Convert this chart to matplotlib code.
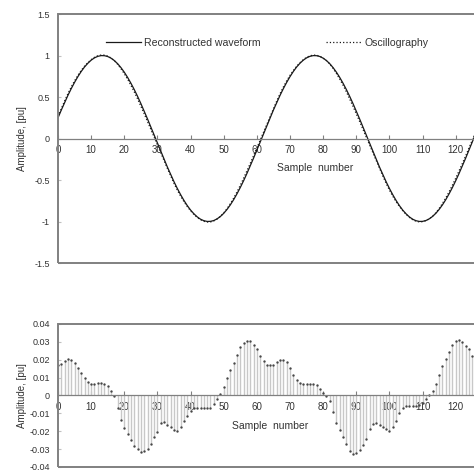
import matplotlib
matplotlib.use("Agg")
import matplotlib.pyplot as plt
from matplotlib.patches import Rectangle
from matplotlib.ticker import FuncFormatter

plt.rcParams['font.family'] = ['Liberation Sans', 'DejaVu Sans']

# reconstructed waveform, one value per sample (0..127)
recon_cycle_a = [
    0.250, 0.344, 0.434, 0.521, 0.602, 0.677, 0.746, 0.808,
    0.862, 0.907, 0.944, 0.972, 0.990, 0.999, 0.998, 0.988,
    0.968, 0.939, 0.901, 0.854, 0.799, 0.736, 0.666, 0.590,
    0.508, 0.421, 0.330, 0.236, 0.139, 0.041, -0.057, -0.154,
    -0.250, -0.344, -0.434, -0.521, -0.602, -0.677, -0.746, -0.808,
    -0.862, -0.907, -0.944, -0.972, -0.990, -0.999, -0.998, -0.988,
    -0.968, -0.939, -0.901, -0.854, -0.799, -0.736, -0.666, -0.590,
    -0.508, -0.421, -0.330, -0.236, -0.139, -0.041, 0.057, 0.154,
]
recon_cycle_b = [
    0.250, 0.344, 0.434, 0.521, 0.602, 0.677, 0.746, 0.808,
    0.862, 0.907, 0.944, 0.972, 0.990, 0.999, 0.998, 0.988,
    0.968, 0.939, 0.901, 0.854, 0.799, 0.736, 0.666, 0.590,
    0.508, 0.421, 0.330, 0.236, 0.139, 0.041, -0.057, -0.154,
    -0.250, -0.344, -0.434, -0.521, -0.602, -0.677, -0.746, -0.808,
    -0.862, -0.907, -0.944, -0.972, -0.990, -0.999, -0.998, -0.988,
    -0.968, -0.939, -0.901, -0.854, -0.799, -0.736, -0.666, -0.590,
    -0.508, -0.421, -0.330, -0.236, -0.139, -0.041, 0.057, 0.154,
]
reconstructed = recon_cycle_a + recon_cycle_b

# difference between oscillography and reconstruction (lower plot)
error = [
    0.0170, 0.0175, 0.0195, 0.0202, 0.0200, 0.0180, 0.0155, 0.0125,
    0.0098, 0.0075, 0.0064, 0.0067, 0.0069, 0.0069, 0.0065, 0.0052,
    0.0025, -0.0005, -0.0070, -0.0135, -0.0180, -0.0215, -0.0250, -0.0280,
    -0.0300, -0.0315, -0.0310, -0.0300, -0.0270, -0.0235, -0.0205, -0.0155,
    -0.0150, -0.0165, -0.0178, -0.0192, -0.0197, -0.0175, -0.0145, -0.0117,
    -0.0085, -0.0070, -0.0070, -0.0072, -0.0072, -0.0072, -0.0070, -0.0045,
    -0.0018, 0.0010, 0.0045, 0.0095, 0.0140, 0.0180, 0.0225, 0.0270,
    0.0295, 0.0307, 0.0303, 0.0285, 0.0258, 0.0222, 0.0195, 0.0172,
    0.0168, 0.0172, 0.0188, 0.0198, 0.0200, 0.0185, 0.0155, 0.0115,
    0.0085, 0.0068, 0.0065, 0.0066, 0.0066, 0.0064, 0.0058, 0.0038,
    0.0015, -0.0005, -0.0030, -0.0090, -0.0155, -0.0195, -0.0230, -0.0270,
    -0.0310, -0.0326, -0.0323, -0.0305, -0.0278, -0.0242, -0.0188, -0.0158,
    -0.0155, -0.0165, -0.0175, -0.0190, -0.0197, -0.0175, -0.0145, -0.0100,
    -0.0070, -0.0060, -0.0058, -0.0058, -0.0058, -0.0055, -0.0040, -0.0022,
    0.0000, 0.0025, 0.0065, 0.0115, 0.0165, 0.0205, 0.0242, 0.0285,
    0.0305, 0.0310, 0.0300, 0.0276, 0.0258, 0.0222, 0.0190, 0.0170,
]

samples = list(range(len(reconstructed)))
oscillography = [r + e for r, e in zip(reconstructed, error)]

top_yticks = [1.5, 1, 0.5, 0, -0.5, -1, -1.5]
bottom_yticks = [0.04, 0.03, 0.02, 0.01, 0, -0.01, -0.02, -0.03, -0.04]
xticks = list(range(0, 130, 10))

frame_col = '#808080'
text_col = '#333333'


def style_axes(ax, ylim, yticks, fmt):
    ax.set_xlim(0, 130)
    ax.set_ylim(*ylim)
    for s in ['top', 'right', 'left']:
        ax.spines[s].set_visible(False)
    ax.spines['bottom'].set_position(('data', 0))
    ax.spines['bottom'].set_color(frame_col)
    ax.spines['bottom'].set_linewidth(0.9)
    ax.add_patch(Rectangle((0, 0), 1, 1, transform=ax.transAxes, fill=False,
                           edgecolor=frame_col, lw=1.4, clip_on=False, zorder=5))
    ax.set_xticks(xticks)
    ax.set_yticks(yticks)
    ax.yaxis.set_major_formatter(FuncFormatter(fmt))
    ax.tick_params(axis='x', direction='in', length=3, pad=5, color=frame_col,
                   labelsize=7, labelcolor=text_col)
    ax.tick_params(axis='y', direction='in', length=2, pad=6, color='#c0c0c0',
                   labelsize=6.5, labelcolor=text_col)


fig = plt.figure(figsize=(4.74, 4.74), dpi=100)

# upper plot
ax1 = fig.add_axes([0.1224, 0.4451, 0.909, 0.5253])
ax1.plot(samples, reconstructed, color='#1a1a1a', lw=0.9, label='Reconstructed waveform')
ax1.plot(samples, oscillography, color='#1a1a1a', lw=0.9, ls=':', label='Oscillography')
style_axes(ax1, (-1.5, 1.5), top_yticks, lambda v, p: ('%g' % v))
ax1.set_xlabel('Sample  number', fontsize=7.5, color=text_col)
ax1.xaxis.set_label_coords(0.596, 0.40)
ax1.set_ylabel('Amplitude, [pu]', fontsize=7, color=text_col)
ax1.yaxis.set_label_coords(-0.072, 0.5)
ax1.legend(loc='center', bbox_to_anchor=(0.486, 0.884), ncol=2, frameon=False,
           fontsize=7.6, handlelength=3.3, handletextpad=0.3, columnspacing=6.2,
           labelcolor=text_col)

# lower plot
ax2 = fig.add_axes([0.1224, 0.0148, 0.909, 0.3017])
ax2.vlines(samples, 0, error, color='#c8c8c8', lw=1.0)
ax2.plot(samples, error, ls='none', marker='.', ms=1.4, color='#444444')
style_axes(ax2, (-0.04, 0.04), bottom_yticks,
           lambda v, p: '0' if abs(v) < 1e-9 else ('%.2f' % v))
ax2.set_xlabel('Sample  number', fontsize=7.5, color=text_col)
ax2.xaxis.set_label_coords(0.492, 0.32)
ax2.set_ylabel('Amplitude, [pu]', fontsize=7, color=text_col)
ax2.yaxis.set_label_coords(-0.072, 0.5)

fig.savefig('out.png', dpi=100)
